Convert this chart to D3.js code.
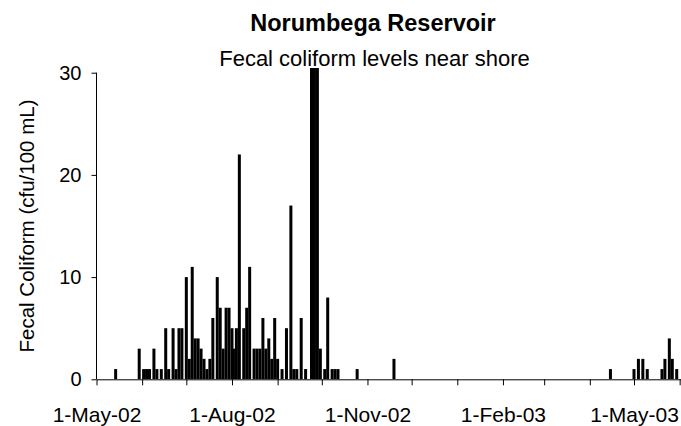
<!DOCTYPE html>
<html>
<head>
<meta charset="utf-8">
<script src="https://cdn.jsdelivr.net/npm/d3@7"></script>
<style>
  html, body { margin: 0; padding: 0; background: #fff; }
  svg { display: block; font-family: 'Liberation Sans', Arial, sans-serif; }
</style>
</head>
<body>
<svg id="chart" width="681" height="426"></svg>
<script>
'use strict';

/* ── data ────────────────────────────────── */
const sampleDates = [
  '2002-05-14','2002-05-30','2002-06-02','2002-06-04','2002-06-06','2002-06-09','2002-06-11','2002-06-14',
  '2002-06-17','2002-06-19','2002-06-22','2002-06-24','2002-06-26','2002-06-28','2002-07-01','2002-07-03',
  '2002-07-05','2002-07-07','2002-07-09','2002-07-11','2002-07-13','2002-07-15','2002-07-17','2002-07-19',
  '2002-07-22','2002-07-24','2002-07-26','2002-07-28','2002-07-30','2002-08-01','2002-08-02','2002-08-04',
  '2002-08-06','2002-08-09','2002-08-11','2002-08-13','2002-08-16','2002-08-18','2002-08-20','2002-08-22',
  '2002-08-24','2002-08-26','2002-08-28','2002-08-30','2002-09-01','2002-09-04','2002-09-07','2002-09-10',
  '2002-09-12','2002-09-14','2002-09-17','2002-09-20','2002-09-24','2002-09-26','2002-09-28','2002-09-30',
  '2002-10-03','2002-10-05','2002-10-08','2002-10-10','2002-10-12','2002-10-25','2002-11-19',
  '2003-04-15','2003-05-01','2003-05-04','2003-05-07','2003-05-10','2003-05-20','2003-05-22','2003-05-25',
  '2003-05-27','2003-05-30'
];
// cfu/100 mL; the three late-September samples run off the top of the scale
const coliform = [
  1, 3, 1, 1, 1, 3, 1, 1,
  5, 1, 5, 1, 5, 5, 10, 2,
  11, 4, 4, 3, 2, 1, 2, 6,
  10, 7, 3, 7, 7, 5, 3, 5,
  22, 5, 7, 11, 3, 3, 3, 6,
  3, 4, 2, 6, 2, 1, 5, 17,
  1, 1, 6, 1, 34, 34, 34, 3,
  1, 8, 1, 1, 1, 1, 2,
  1, 1, 2, 2, 1, 1, 2, 4,
  2, 1
];
const yTicks = [0, 10, 20, 30];
const xLabelDates = ['2002-05-01','2002-08-01','2002-11-01','2003-02-01','2003-05-01'];

const titleText    = 'Norumbega Reservoir';
const subtitleText = 'Fecal coliform levels near shore';
const yLabelText   = 'Fecal Coliform (cfu/100 mL)';

/* ── scales ──────────────────────────────── */
const parse = d3.timeParse('%Y-%m-%d');
const rows  = sampleDates.map((d, i) => ({ date: parse(d), v: coliform[i] }));

const X0 = 96.5, PX_PER_DAY = 1.4726;
const xStart = new Date(2002, 4, 1), xEnd = new Date(2003, 5, 5);
const x = d3.scaleTime()
  .domain([xStart, xEnd])
  .range([X0, X0 + d3.timeDay.count(xStart, xEnd) * PX_PER_DAY]);

const y = d3.scaleLinear().domain([0, 30]).range([379.3, 72.7]);

const svg = d3.select('#chart');
const FONT = "'Liberation Sans', Arial, sans-serif";

/* ── titles ──────────────────────────────── */
svg.append('text')
  .attr('x', 373).attr('y', 30.5)
  .attr('text-anchor', 'middle')
  .attr('font-size', 23.5).attr('font-weight', 'bold')
  .text(titleText);

svg.append('text')
  .attr('x', 374.5).attr('y', 66)
  .attr('text-anchor', 'middle')
  .attr('font-size', 22)
  .text(subtitleText);

/* ── bars (clipped at plot top) ──────────── */
svg.append('clipPath').attr('id', 'plot-clip')
  .append('rect').attr('x', X0).attr('y', 68).attr('width', 681 - X0).attr('height', 379.3 - 68);

const BW = 3.0;
svg.append('g').attr('clip-path', 'url(#plot-clip)')
  .selectAll('rect').data(rows).join('rect')
  .attr('x', d => x(d.date) - BW / 2)
  .attr('y', d => y(d.v))
  .attr('width', BW)
  .attr('height', d => y(0) - y(d.v))
  .attr('fill', '#000');

/* ── axes ────────────────────────────────── */
const yAxis = svg.append('g')
  .attr('transform', `translate(${X0},0)`)
  .call(d3.axisLeft(y).tickValues(yTicks).tickSize(5).tickPadding(10).tickSizeOuter(0));
yAxis.select('.domain').attr('stroke', '#000').attr('d', `M0,${y(30)}V${y(0)}`);
yAxis.selectAll('text').attr('font-size', 20).attr('font-family', FONT).attr('fill', '#000');

const labelSet = new Set(xLabelDates);
const fmt = d3.timeFormat('%-d-%b-%y');
const xAxis = svg.append('g')
  .attr('transform', `translate(0,${y(0)})`)
  .call(d3.axisBottom(x)
    .ticks(d3.timeMonth.every(1))
    .tickSize(6).tickPadding(22).tickSizeOuter(0)
    .tickFormat(d => labelSet.has(d3.timeFormat('%Y-%m-%d')(d)) ? fmt(d) : ''));
xAxis.select('.domain').attr('stroke', '#000');
xAxis.selectAll('text').attr('font-size', 21).attr('font-family', FONT).attr('fill', '#000');

/* ── y label ─────────────────────────────── */
svg.append('text')
  .attr('transform', 'translate(34,226) rotate(-90)')
  .attr('text-anchor', 'middle')
  .attr('font-size', 20.5)
  .text(yLabelText);
</script>
</body>
</html>
